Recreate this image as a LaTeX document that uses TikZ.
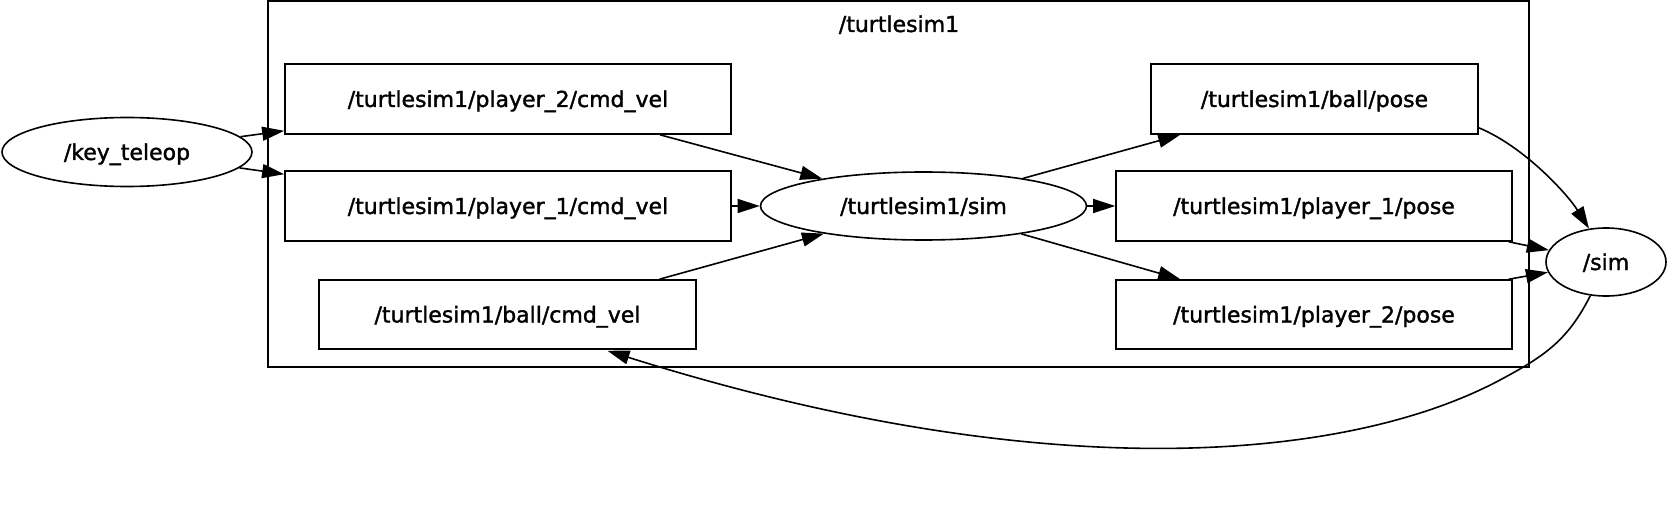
\documentclass[tikz,border=0pt]{standalone}
\usepackage{fontspec}
\setmainfont{DejaVu Sans}[FakeBold=1.5]
\usetikzlibrary{arrows.meta,shapes.geometric,calc}
\begin{document}
\begin{tikzpicture}[x=1pt,y=1pt,
  every node/.style={font=\fontsize{22}{26}\selectfont,text height=19pt,text depth=3pt},
  ell/.style={draw,ellipse,line width=1.6pt,inner sep=0pt},
  topic/.style={draw,rectangle,line width=1.6pt,inner sep=0pt},
  cluster/.style={draw,line width=1.6pt},
  arr/.style={line width=1.6pt,-{Triangle[length=22pt,width=14pt]}}]
\useasboundingbox[fill=white] (0,0) rectangle (1668,-524);
% cluster
\draw[cluster] (268,-1) rectangle (1529,-367);
\node (clabel) at (899,-24) {/turtlesim1};
% nodes
\node[ell,minimum width=250pt,minimum height=69pt] (key) at (127,-152) {/key\_teleop};
\node[topic,minimum width=446pt,minimum height=70pt] (p2cmd) at (508,-99) {/turtlesim1/player\_2/cmd\_vel};
\node[topic,minimum width=446pt,minimum height=70pt] (p1cmd) at (508,-206) {/turtlesim1/player\_1/cmd\_vel};
\node[topic,minimum width=377pt,minimum height=69pt] (ballcmd) at (507.5,-314.5) {/turtlesim1/ball/cmd\_vel};
\node[ell,minimum width=326pt,minimum height=68pt] (tsim) at (923.5,-206) {/turtlesim1/sim};
\node[topic,minimum width=327pt,minimum height=70pt] (ballpose) at (1314.5,-99) {/turtlesim1/ball/pose};
\node[topic,minimum width=396pt,minimum height=70pt] (p1pose) at (1314,-206) {/turtlesim1/player\_1/pose};
\node[topic,minimum width=396pt,minimum height=69pt] (p2pose) at (1314,-314.5) {/turtlesim1/player\_2/pose};
\node[ell,minimum width=120pt,minimum height=68pt] (sim) at (1606,-262) {/sim};
% edge end points
\coordinate (kp2) at ($(p2cmd.south west)+(0,4)$);
\coordinate (kp1) at ($(p1cmd.north west)+(0,-4)$);
\coordinate (p2s) at ($(p2cmd.south)+(152,0)$);
\coordinate (bcs) at ($(ballcmd.north)+(152,0)$);
\coordinate (bpe) at ($(ballpose.south west)+(30,0)$);
\coordinate (p2pe) at ($(p2pose.north west)+(65,0)$);
\coordinate (bps) at ($(ballpose.south east)+(0,7)$);
\coordinate (p1ps) at ($(p1pose.south east)+(-4,0)$);
\coordinate (p2ps) at ($(p2pose.north east)+(-4,0)$);
\coordinate (bce) at ($(ballcmd.south)+(100,-1)$);
% edges
\draw[arr] (key) -- (kp2);
\draw[arr] (key) -- (kp1);
\draw[arr] (p2s) -- (tsim);
\draw[arr] (p1cmd) -- (tsim);
\draw[arr] (bcs) -- (tsim);
\draw[arr] (tsim) -- (bpe);
\draw[arr] (tsim) -- (p1pose);
\draw[arr] (tsim) -- (p2pe);
\draw[arr] (bps) .. controls (1525,-147) and (1568,-195) .. (sim.117);
\draw[arr] (p1ps) -- (sim);
\draw[arr] (p2ps) -- (sim);
\draw[arr] (sim.245) .. controls (1568,-340) and (1545,-356) .. (1500,-380)
  .. controls (1350,-460) and (1050,-490) .. (bce);
\end{tikzpicture}
\end{document}
